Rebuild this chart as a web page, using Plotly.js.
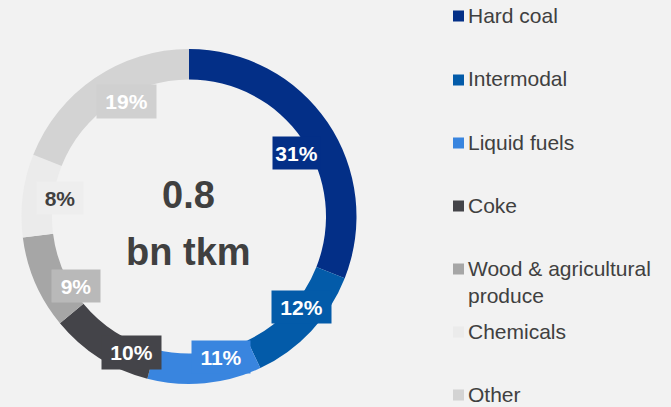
<!DOCTYPE html>
<html>
<head>
<meta charset="utf-8">
<script src="https://cdn.plot.ly/plotly-3.0.1.min.js"></script>
<style>
  html, body { margin: 0; padding: 0; background: #f2f2f2; }
  #chart { width: 671px; height: 407px; }
</style>
</head>
<body>
<div id="chart"></div>
<script>
// ---- data ----
const categories = ["Hard coal", "Intermodal", "Liquid fuels", "Coke", "Wood & agricultural<br>produce", "Chemicals", "Other"];
const shares = [31, 12, 11, 10, 9, 8, 19];
const centerValue = "0.8";
const centerUnit = "bn tkm";

// ---- styles ----
const sliceColors = ["#032f87", "#035ba9", "#3985df", "#444449", "#a6a6a6", "#ebebeb", "#d3d3d3"];
const boxColors   = ["#032f87", "#035ba9", "#3985df", "#444449", "#b9b9b9", "#eeeeee", "#d0d0d0"];
const labelTextColors = ["#ffffff", "#ffffff", "#ffffff", "#ffffff", "#ffffff", "#404040", "#ffffff"];
// label box centers (px) and sizes (px)
const labelPos = [[296.5,153],[301,307],[221,357],[131.5,352],[76,286],[60,198],[126.5,101.5]];
const labelSize = [[47,32],[59,32],[58,32],[59,33],[48,32],[46,32],[59,33]];
const legendY = [16, 80, 143, 206, 269, 332, 395];

const W = 671, H = 407;
const px = x => x / W;
const py = y => 1 - y / H;

const cx = 189, cy = 216.5, R = 167.5;

const trace = {
  type: "pie",
  values: shares,
  labels: categories,
  marker: { colors: sliceColors, line: { width: 0 } },
  hole: 0.818,
  sort: false,
  direction: "clockwise",
  rotation: 0,
  textinfo: "none",
  hoverinfo: "none",
  showlegend: false,
  domain: { x: [px(cx - R), px(cx + R)], y: [py(cy + R), py(cy - R)] }
};

const annotations = [];
const shapes = [];
const fontFam = "Liberation Sans, Arial, sans-serif";

shares.forEach((v, i) => {
  annotations.push({
    xref: "paper", yref: "paper",
    x: px(labelPos[i][0]), y: py(labelPos[i][1]),
    xanchor: "center", yanchor: "middle",
    text: "<b>" + v + "%</b>",
    showarrow: false,
    bgcolor: boxColors[i],
    width: labelSize[i][0] - 2, height: labelSize[i][1] - 2,
    borderpad: 1,
    font: { family: fontFam, size: 21, color: labelTextColors[i] }
  });
});

annotations.push({
  xref: "paper", yref: "paper", x: px(cx), y: py(195),
  xanchor: "center", yanchor: "middle", showarrow: false,
  text: "<b>" + centerValue + "</b>",
  font: { family: fontFam, size: 38, color: "#404040" }
});
annotations.push({
  xref: "paper", yref: "paper", x: px(cx), y: py(252),
  xanchor: "center", yanchor: "middle", showarrow: false,
  text: "<b>" + centerUnit + "</b>",
  font: { family: fontFam, size: 38, color: "#404040" }
});

categories.forEach((c, i) => {
  const yc = legendY[i];
  shapes.push({
    type: "rect", xref: "paper", yref: "paper",
    x0: px(453), x1: px(464), y0: py(yc + 5.5), y1: py(yc - 5.5),
    fillcolor: sliceColors[i], line: { width: 0 }
  });
  annotations.push({
    xref: "paper", yref: "paper", x: px(466), y: py(yc - 14.5),
    xanchor: "left", yanchor: "top", align: "left", showarrow: false,
    text: c,
    font: { family: fontFam, size: 21, color: "#404040" }
  });
});

const layout = {
  width: W, height: H,
  margin: { l: 0, r: 0, t: 0, b: 0 },
  paper_bgcolor: "#f2f2f2",
  plot_bgcolor: "#f2f2f2",
  showlegend: false,
  annotations: annotations,
  shapes: shapes
};

Plotly.newPlot("chart", [trace], layout, { staticPlot: true, displayModeBar: false });
</script>
</body>
</html>
